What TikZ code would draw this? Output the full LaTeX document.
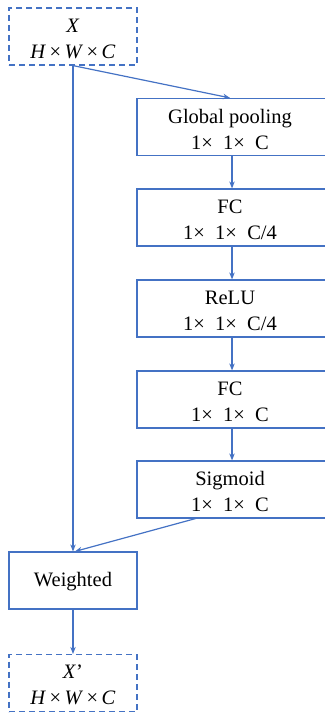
\documentclass[tikz,border=0pt]{standalone}
\usepackage{fontspec}
\setmainfont{Liberation Serif}
\usetikzlibrary{arrows.meta,calc}
\definecolor{lblue}{HTML}{4472C4}
\begin{document}
\begin{tikzpicture}[x=1pt,y=-1pt,
  box/.style={draw=lblue,line width=1.2pt,rectangle,minimum width=128pt,minimum height=57pt,inner sep=0pt},
  dbox/.style={box,dashed,dash pattern=on 6pt off 4pt},
  rbox/.style={box,minimum width=190pt},
  txt/.style={align=center,inner sep=0pt,font=\fontsize{20.5}{26}\selectfont},
  arr/.style={draw=lblue,line width=1.2pt,-{Stealth[length=7pt,width=5.5pt]}},
  varr/.style={arr,line width=1.7pt}]
\useasboundingbox (0,0) rectangle (324,714);
\node[dbox] (x) at (73,36.5) {};
\node[rbox] (gp) at (232,127) {};
\node[rbox] (fc1) at (232,217.5) {};
\node[rbox] (relu) at (232,308.5) {};
\node[rbox] (fc2) at (232,399.5) {};
\node[rbox] (sig) at (232,489.5) {};
\node[box] (wd) at (73,580.5) {};
\node[dbox] (out) at (73,683) {};
\node[txt] (tx) at ($(x.center)+(0,2)$) {\textit{X}\\\textit{H}\,×\,\textit{W}\,×\,\textit{C}};
\node[txt] (tgp) at ($(gp.center)+(-2,2)$) {Global pooling\\1× \ 1× \ C};
\node[txt] (tfc1) at ($(fc1.center)+(-2,2)$) {FC\\1× \ 1× \ C/4};
\node[txt] (trelu) at ($(relu.center)+(-2,2)$) {ReLU\\1× \ 1× \ C/4};
\node[txt] (tfc2) at ($(fc2.center)+(-2,2)$) {FC\\1× \ 1× \ C};
\node[txt] (tsig) at ($(sig.center)+(-2,2)$) {Sigmoid\\1× \ 1× \ C};
\node[txt] (twd) at ($(wd.center)+(0,1)$) {Weighted};
\node[txt] (tout) at ($(out.center)+(0,2)$) {\textit{X}’\\\textit{H}\,×\,\textit{W}\,×\,\textit{C}};
\draw[arr] (x.south) -- (wd.north);
\draw[arr] (x.south) -- ($(gp.north)+(-2,0)$);
\draw[varr] (gp) -- (fc1);
\draw[varr] (fc1) -- (relu);
\draw[varr] (relu) -- (fc2);
\draw[varr] (fc2) -- (sig);
\draw[arr] ($(sig.south west)+(59,0)$) -- ($(wd.north)+(2,0)$);
\draw[varr] (wd) -- (out);
\end{tikzpicture}
\end{document}
